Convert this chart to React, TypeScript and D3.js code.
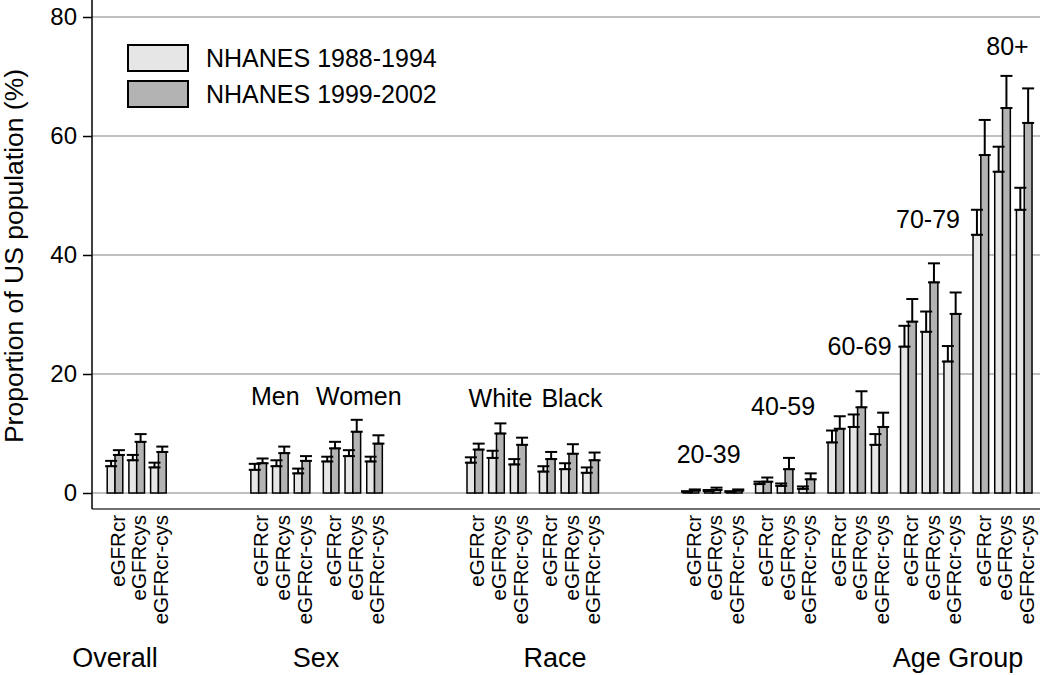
import React, { useEffect, useRef } from 'react';
import * as d3 from 'd3';

// eGFR methods shown under every subgroup
const methods = ['eGFRcr', 'eGFRcys', 'eGFRcr-cys'];
const groups = ['Overall', 'Sex', 'Race', 'Age Group'];
const subgroups = ['Overall', 'Men', 'Women', 'White', 'Black', '20-39', '40-59', '60-69', '70-79', '80+'];
const subgroupGroup = ['Overall', 'Sex', 'Sex', 'Race', 'Race', 'Age Group', 'Age Group', 'Age Group', 'Age Group', 'Age Group'];
// height (in %) where the subgroup caption sits, null = no caption
const subgroupLabelAt = [null, 14.8, 14.8, 14.5, 14.5, 5.0, 13.1, 23.2, 44.5, 73.6];

const series = ['NHANES 1988-1994', 'NHANES 1999-2002'];
const seriesFill = ['#e6e6e6', '#b3b3b3'];

// estimates [eGFRcr, eGFRcys, eGFRcr-cys] per subgroup
const est8894 = [
  [4.5, 5.5, 4.3],
  [3.9, 4.5, 3.3],
  [5.3, 6.2, 5.3],
  [5.1, 5.9, 4.8],
  [3.6, 4.0, 3.4],
  [0.2, 0.3, 0.2],
  [1.5, 1.2, 0.7],
  [8.5, 11.1, 8.1],
  [24.6, 27.1, 22.1],
  [43.4, 54.0, 47.6],
];
const upper8894 = [
  [5.4, 6.4, 5.1],
  [4.9, 5.5, 4.1],
  [6.1, 7.2, 6.1],
  [6.0, 7.1, 5.7],
  [4.5, 5.0, 4.3],
  [0.3, 0.5, 0.3],
  [1.9, 1.6, 1.1],
  [10.5, 13.2, 9.9],
  [28.1, 30.5, 24.7],
  [47.6, 58.2, 51.3],
];
const est9902 = [
  [6.4, 8.6, 6.9],
  [5.0, 6.7, 5.4],
  [7.5, 10.3, 8.3],
  [7.3, 10.0, 8.1],
  [5.7, 6.6, 5.5],
  [0.4, 0.5, 0.4],
  [1.9, 4.0, 2.3],
  [10.8, 14.4, 11.1],
  [28.8, 35.4, 30.1],
  [56.8, 64.7, 62.2],
];
const upper9902 = [
  [7.2, 9.9, 7.8],
  [5.8, 7.8, 6.2],
  [8.6, 12.3, 9.7],
  [8.3, 11.7, 9.3],
  [6.9, 8.2, 6.8],
  [0.6, 0.9, 0.6],
  [2.6, 5.9, 3.3],
  [12.9, 17.1, 13.5],
  [32.6, 38.6, 33.7],
  [62.7, 70.1, 68.0],
];

const yTicks = [0, 20, 40, 60, 80];

const FONT = "'Liberation Sans', Arial, Helvetica, sans-serif";

const App: React.FC = () => {
  const ref = useRef<SVGSVGElement>(null);

  useEffect(() => {
    const svg = d3.select(ref.current);
    svg.selectAll('*').remove();

    const left = 92;
    const right = 1040;
    const axisBottom = 509;

    // slot units: one unit per method pair, extra gaps between subgroups and groups
    const subGap = 0.34;
    const groupGap = 3.62;
    type Slot = { si: number; mi: number; u: number };
    const slots: Slot[] = [];
    let breaks = 0;
    subgroups.forEach((_, si) => {
      const gi = groups.indexOf(subgroupGroup[si]);
      if (si > 0 && subgroupGroup[si] === subgroupGroup[si - 1]) breaks++;
      methods.forEach((_, mi) => {
        const k = si * methods.length + mi;
        slots.push({ si, mi, u: k + subGap * breaks + groupGap * gi });
      });
    });
    const uMax = d3.max(slots, d => d.u) as number;

    const x = d3.scaleLinear().domain([0, uMax]).range([115, 115 + 21.7 * uMax]);
    const y = d3.scaleLinear().domain([0, 80]).range([493, 17]);

    // gridlines
    svg.append('g')
      .selectAll('line')
      .data(yTicks)
      .join('line')
      .attr('x1', left)
      .attr('x2', right)
      .attr('y1', d => y(d))
      .attr('y2', d => y(d))
      .attr('stroke', '#ababab')
      .attr('stroke-width', 1.5);

    // bottom frame line
    svg.append('line')
      .attr('x1', left).attr('x2', right)
      .attr('y1', axisBottom).attr('y2', axisBottom)
      .attr('stroke', '#404040').attr('stroke-width', 1.5);

    // y axis
    const yAxis = svg.append('g')
      .attr('transform', `translate(${left},0)`)
      .call(d3.axisLeft(y).tickValues(yTicks).tickSize(9).tickPadding(6).tickFormat(d3.format('d')));
    yAxis.select('.domain').remove();
    yAxis.selectAll('.tick line').attr('stroke', '#000').attr('stroke-width', 1.5);
    yAxis.selectAll('.tick text')
      .attr('font-family', FONT)
      .attr('font-size', 24)
      .attr('fill', '#000');
    svg.append('line')
      .attr('x1', left).attr('x2', left)
      .attr('y1', 0).attr('y2', axisBottom)
      .attr('stroke', '#000').attr('stroke-width', 1.5);

    // y title
    svg.append('text')
      .attr('transform', `translate(23,${(57 + 455) / 2}) rotate(-90)`)
      .attr('text-anchor', 'middle')
      .attr('font-family', FONT)
      .attr('font-size', 26.5)
      .text('Proportion of US population (%)');

    const barW = 7.8;
    const est = [est8894, est9902];
    const upp = [upper8894, upper9902];

    // bars
    series.forEach((_, s) => {
      svg.append('g')
        .selectAll('rect')
        .data(slots)
        .join('rect')
        .attr('x', d => x(d.u) - (s === 0 ? barW : 0))
        .attr('width', barW)
        .attr('y', d => y(est[s][d.si][d.mi]))
        .attr('height', d => y(0) - y(est[s][d.si][d.mi]))
        .attr('fill', seriesFill[s])
        .attr('stroke', '#000')
        .attr('stroke-width', 1.5);
    });

    // error bars (estimate to upper limit)
    const capW = 12;
    series.forEach((_, s) => {
      const g = svg.append('g').attr('stroke', '#000').attr('stroke-width', 2);
      slots.forEach(d => {
        const cx = x(d.u) + (s === 0 ? -barW / 2 : barW / 2);
        const y0 = y(est[s][d.si][d.mi]);
        const y1 = y(upp[s][d.si][d.mi]);
        g.append('line').attr('x1', cx).attr('x2', cx).attr('y1', y0).attr('y2', y1);
        g.append('line').attr('x1', cx - capW / 2).attr('x2', cx + capW / 2).attr('y1', y0).attr('y2', y0);
        g.append('line').attr('x1', cx - capW / 2).attr('x2', cx + capW / 2).attr('y1', y1).attr('y2', y1);
      });
    });

    // method labels under the axis
    svg.append('g')
      .selectAll('text')
      .data(slots)
      .join('text')
      .attr('transform', d => `translate(${x(d.u) + 2.5},515) rotate(-90)`)
      .attr('text-anchor', 'end')
      .attr('dy', '0.35em')
      .attr('font-family', FONT)
      .attr('font-size', 20.5)
      .text(d => methods[d.mi]);

    // subgroup captions above the bars (small nudges as in the original layout)
    const captionDx = [0, -5, 6, 4, 3, -4, -2, 2, -2, 5];
    subgroups.forEach((name, si) => {
      const at = subgroupLabelAt[si];
      if (at === null) return;
      const us = slots.filter(d => d.si === si).map(d => d.u);
      const cx = x((d3.min(us)! + d3.max(us)!) / 2) + captionDx[si];
      svg.append('text')
        .attr('x', cx)
        .attr('y', y(at))
        .attr('text-anchor', 'middle')
        .attr('font-family', FONT)
        .attr('font-size', 25)
        .text(name);
    });

    // group names along the bottom
    const groupLabelX = [115, 316, 555, 958];
    groups.forEach((name, gi) => {
      svg.append('text')
        .attr('x', groupLabelX[gi])
        .attr('y', 667)
        .attr('text-anchor', 'middle')
        .attr('font-family', FONT)
        .attr('font-size', 27)
        .text(name);
    });

    // legend
    const legend = svg.append('g');
    series.forEach((name, s) => {
      const top = 45 + s * 36;
      legend.append('rect')
        .attr('x', 128).attr('y', top)
        .attr('width', 60).attr('height', 26)
        .attr('fill', seriesFill[s])
        .attr('stroke', '#000').attr('stroke-width', 2);
      legend.append('text')
        .attr('x', 206).attr('y', top + 13)
        .attr('dy', '0.35em')
        .attr('font-family', FONT)
        .attr('font-size', 25)
        .text(name);
    });
  }, []);

  return (
    <svg
      ref={ref}
      width={1050}
      height={675}
      style={{ position: 'absolute', left: 0, top: 0, background: '#fff' }}
    />
  );
};

export default App;
